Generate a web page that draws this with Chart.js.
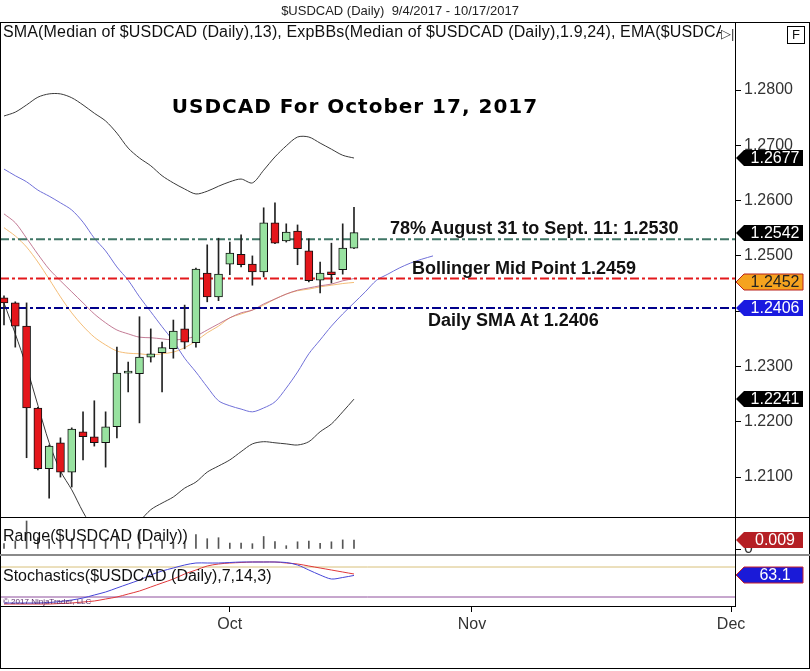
<!DOCTYPE html>
<html lang="en">
<head>
  <meta charset="UTF-8" />
  <title>USDCAD Daily</title>
  <script src="https://cdn.jsdelivr.net/npm/chart.js"></script>
  <style>
    body { margin: 0; background: #fff; font-family: "Liberation Sans", Arial, sans-serif; }
    #wrap { position: relative; width: 810px; height: 671px; overflow: hidden; }
    #wrap canvas { position: absolute; left: 0; }
    .txt { position: absolute; white-space: nowrap; color: #111; }
    .line { position: absolute; background: #000; }
    .note { font-weight: bold; font-size: 18px; line-height: 22px; }
  </style>
</head>
<body>
  <div id="wrap">
    <canvas id="mainChart" width="810" height="494" style="top:23px"></canvas>
    <canvas id="rangeChart" width="810" height="36" style="top:518px"></canvas>
    <canvas id="stochChart" width="810" height="86" style="top:556px"></canvas>

    <!-- frame and panel separators -->
    <div class="line" style="left:0;top:22px;width:808px;height:645px;background:none;border:1px solid #000;"></div>
    <div class="line" style="left:0;top:517px;width:810px;height:1px;"></div>
    <div class="line" style="left:0;top:554px;width:810px;height:2px;background:#8a8a8a;"></div>
    <div class="line" style="left:0;top:606px;width:736px;height:1px;"></div>
    <div class="line" style="left:735px;top:22px;width:1px;height:585px;"></div>

    <div class="txt" style="left:0;top:3px;width:800px;text-align:center;font-size:13px;line-height:16px;color:#222;">$USDCAD (Daily)&nbsp; 9/4/2017 - 10/17/2017</div>
    <div class="txt" style="left:3px;top:23px;width:718px;overflow:hidden;font-size:16px;line-height:18px;letter-spacing:0.15px;">SMA(Median of $USDCAD (Daily),13), ExpBBs(Median of $USDCAD (Daily),1.9,24), EMA($USDCAD (Daily),13)</div>
    <div class="txt" style="left:721px;top:26px;font-size:13px;line-height:16px;color:#333;">&#9655;|</div>
    <div class="txt" style="left:787px;top:26px;width:16px;height:16px;border:1px solid #000;text-align:center;font-size:13px;line-height:16px;">F</div>

    <div class="txt" style="left:0;top:94px;width:710px;text-align:center;font-family:'DejaVu Sans',sans-serif;font-weight:bold;font-size:20px;letter-spacing:1px;line-height:24px;color:#000;">USDCAD For October 17, 2017</div>
    <div class="txt note" style="left:390px;top:217px;">78% August 31 to Sept. 11: 1.2530</div>
    <div class="txt note" style="left:412px;top:257px;">Bollinger Mid Point 1.2459</div>
    <div class="txt note" style="left:428px;top:309px;">Daily SMA At 1.2406</div>

    <div class="txt" style="left:3px;top:527px;font-size:16px;line-height:18px;">Range($USDCAD (Daily))</div>
    <div class="txt" style="left:3px;top:567px;font-size:16px;line-height:18px;">Stochastics($USDCAD (Daily),7,14,3)</div>
    <div class="txt" style="left:3px;top:597px;font-size:8px;line-height:9px;color:#5b2d6b;">© 2017 NinjaTrader, LLC</div>
  </div>

  <script>
    // daily candles 9/4/2017 - 10/17/2017
    const opens  = [1.2424,1.2415,1.2373,1.2225,1.2115,1.2162,1.2109,1.2182,1.2173,1.2162,1.2191,1.2288,1.2287,1.2317,1.2325,1.2332,1.2368,1.2343,1.2469,1.2426,1.2485,1.2503,1.2485,1.2471,1.2560,1.2527,1.2545,1.2509,1.2456,1.2471,1.2475,1.2514];
    const highs  = [1.2428,1.2417,1.2415,1.2226,1.2158,1.2171,1.2189,1.2218,1.2238,1.2218,1.2335,1.2308,1.2390,1.2368,1.2344,1.2384,1.2411,1.2478,1.2520,1.2532,1.2525,1.2538,1.2500,1.2587,1.2596,1.2558,1.2556,1.2531,1.2489,1.2523,1.2558,1.2588];
    const lows   = [1.2375,1.2335,1.2135,1.2113,1.2062,1.2100,1.2082,1.2131,1.2156,1.2118,1.2171,1.2254,1.2198,1.2308,1.2254,1.2315,1.2332,1.2335,1.2417,1.2419,1.2466,1.2480,1.2447,1.2462,1.2522,1.2525,1.2484,1.2453,1.2433,1.2451,1.2467,1.2513];
    const closes = [1.2415,1.2373,1.2225,1.2115,1.2156,1.2109,1.2187,1.2173,1.2162,1.2191,1.2288,1.2289,1.2317,1.2323,1.2334,1.2364,1.2344,1.2476,1.2426,1.2467,1.2505,1.2484,1.2471,1.2560,1.2523,1.2543,1.2513,1.2455,1.2469,1.2466,1.2514,1.2542];

    // indicators
    const bbUpper = [1.2753,1.2760,1.2773,1.2787,1.2793,1.2793,1.2786,1.2773,1.2758,1.2744,1.2722,1.2695,1.2677,1.2663,1.2645,1.2632,1.2621,1.2612,1.2617,1.2626,1.2634,1.2639,1.2632,1.2655,1.2679,1.2699,1.2715,1.2715,1.2704,1.2693,1.2682,1.2677];
    const bbMid   = [1.2576,1.2560,1.2532,1.2503,1.2476,1.2455,1.2435,1.2415,1.2395,1.2379,1.2366,1.2359,1.2353,1.2352,1.2350,1.2348,1.2350,1.2355,1.2366,1.2377,1.2388,1.2397,1.2402,1.2413,1.2422,1.2431,1.2438,1.2442,1.2446,1.2449,1.2455,1.2459];
    const bbLower = [1.2415,1.2359,1.2299,1.2230,1.2162,1.2111,1.2077,1.2037,1.2004,1.1986,1.1980,1.1990,1.2019,1.2041,1.2053,1.2064,1.2080,1.2091,1.2109,1.2120,1.2131,1.2146,1.2160,1.2164,1.2162,1.2160,1.2158,1.2164,1.2182,1.2196,1.2218,1.2241];
    const emaLine = [1.2551,1.2536,1.2516,1.2489,1.2458,1.2426,1.2397,1.2373,1.2353,1.2339,1.2328,1.2324,1.2323,1.2321,1.2323,1.2326,1.2334,1.2346,1.2361,1.2373,1.2388,1.2395,1.2402,1.2411,1.2422,1.2431,1.2437,1.2440,1.2444,1.2447,1.2450,1.2452];
    const smaLine = [1.2657,1.2645,1.2634,1.2619,1.2608,1.2596,1.2583,1.2561,1.2532,1.2509,1.2480,1.2456,1.2426,1.2399,1.2372,1.2346,1.2315,1.2290,1.2263,1.2238,1.2229,1.2223,1.2218,1.2225,1.2236,1.2261,1.2290,1.2323,1.2348,1.2373,1.2395,1.2415,1.2435,1.2456,1.2467,1.2478,1.2487,1.2494,1.2500];

    const levels      = [1.2530, 1.2459, 1.2406];
    const levelColors = ['#3f7565', '#e3191c', '#00008b'];

    const rangeVals = [0.0053,0.0082,0.0280,0.0113,0.0096,0.0071,0.0107,0.0087,0.0082,0.0100,0.0164,0.0054,0.0192,0.0060,0.0090,0.0069,0.0079,0.0143,0.0103,0.0113,0.0059,0.0058,0.0053,0.0125,0.0074,0.0033,0.0072,0.0078,0.0056,0.0072,0.0091,0.0090];
    const stochK = [8,8,8,8,9,11,14,18,24,30,38,46,54,64,72,78,84,88,88,88,89,90,90,90,90,89,84,74,64,56,59,63.1];
    const stochD = [6,6,6,6,6,7,8,10,12,16,20,26,32,40,48,56,66,74,82,86,88,89,90,90,90,88,86,82,78,74,70,66];
    const stochLevels = [80, 20];

    const priceTicks  = [1.21, 1.22, 1.23, 1.24, 1.25, 1.26, 1.27, 1.28];
    const xTickPos    = [20, 41.45, 64.4];
    const xTickLabels = ['Oct', 'Nov', 'Dec'];

    const xMin = -0.354, xMax = 64.746;
    const green = '#98e2a0', red = '#e4161b';
    const fontAxis = { family: '"Liberation Sans", Arial, sans-serif', size: 16 };

    const pts = arr => arr.map((v, i) => ({ x: i, y: v }));
    const hline = v => [{ x: xMin, y: v }, { x: xMax, y: v }];

    function lineSet(data, color, order, extra) {
      return Object.assign({ type: 'line', data, borderColor: color, borderWidth: 1, pointRadius: 0, tension: 0.3, fill: false, order }, extra || {});
    }

    function xAxis(show) {
      return {
        type: 'linear', min: xMin, max: xMax, offset: false, display: show,
        afterBuildTicks: s => { s.ticks = xTickPos.map(v => ({ value: v })); },
        afterFit: s => {
          // hidden axes must keep zero height
          s.height = show ? 36 : 0;
          s.paddingLeft = 0; s.paddingRight = 0;
        },
        ticks: { autoSkip: false, maxRotation: 0, font: fontAxis, color: '#333', padding: 3, callback: (v, i) => xTickLabels[i] },
        grid: { drawOnChartArea: false, tickLength: 6, color: '#000' },
        border: { display: false }
      };
    }

    function yAxis(min, max, ticks, fmt) {
      return {
        type: 'linear', position: 'right', min, max,
        afterBuildTicks: s => { s.ticks = ticks.map(v => ({ value: v })); },
        afterFit: s => { s.width = 75; s.paddingTop = 0; s.paddingBottom = 0; },
        ticks: { font: fontAxis, color: '#333', padding: 3, display: ticks.length > 0, callback: fmt },
        grid: { drawOnChartArea: false, tickLength: 6, color: '#000', drawTicks: ticks.length > 0 },
        border: { display: false }
      };
    }

    const tagPlugin = {
      id: 'tags',
      afterDraw(chart, args, opts) {
        const ctx = chart.ctx, y = chart.scales.y, x0 = chart.chartArea.right + 1;
        (opts.items || []).forEach(t => {
          const py = Math.round(y.getPixelForValue(t.value));
          ctx.save();
          ctx.beginPath();
          ctx.moveTo(x0, py);
          ctx.lineTo(x0 + 8, py - 8);
          ctx.lineTo(x0 + 67, py - 8);
          ctx.lineTo(x0 + 67, py + 8);
          ctx.lineTo(x0 + 8, py + 8);
          ctx.closePath();
          ctx.fillStyle = t.fill;
          ctx.fill();
          if (t.edge) { ctx.strokeStyle = t.edge; ctx.lineWidth = 1; ctx.stroke(); }
          ctx.fillStyle = t.color;
          ctx.font = '16px "Liberation Sans", Arial, sans-serif';
          ctx.textAlign = 'center';
          ctx.textBaseline = 'middle';
          ctx.fillText(t.text, x0 + 39, py + 1);
          ctx.restore();
        });
      }
    };

    const common = { responsive: false, devicePixelRatio: 1, animation: false, layout: { padding: 0 },
      plugins: { legend: { display: false }, tooltip: { enabled: false } } };

    const last = a => a[a.length - 1];

    // main price panel
    new Chart(document.getElementById('mainChart'), {
      type: 'line',
      data: {
        datasets: [
          { type: 'bar', data: closes.map((c, i) => ({ x: i, y: [opens[i], c] })),
            backgroundColor: closes.map((c, i) => c >= opens[i] ? green : red),
            borderColor: '#111', borderWidth: 1, borderSkipped: false, barThickness: 8, minBarLength: 2, grouped: false, order: 0 },
          { type: 'bar', data: closes.map((c, i) => ({ x: i, y: [lows[i], highs[i]] })),
            backgroundColor: '#222', barThickness: 1, grouped: false, order: 1 },
          ...levels.map((v, k) => lineSet(hline(v), levelColors[k], 2, { borderWidth: 2, tension: 0, borderDash: [9, 3, 3, 3] })),
          lineSet(pts(bbUpper), '#3a3a3a', 3),
          lineSet(pts(bbLower), '#3a3a3a', 3),
          lineSet(pts(smaLine), '#7070d8', 3),
          lineSet(pts(bbMid), 'rgba(185,100,130,0.85)', 3),
          lineSet(pts(emaLine), 'rgba(242,178,95,0.85)', 3)
        ]
      },
      options: Object.assign({}, common, {
        scales: {
          x: xAxis(false),
          y: yAxis(1.20278, 1.29212, priceTicks, v => v.toFixed(4))
        },
        plugins: Object.assign({}, common.plugins, {
          tags: { items: [
            { value: last(bbUpper), text: last(bbUpper).toFixed(4), fill: '#000', color: '#fff' },
            { value: last(closes), text: last(closes).toFixed(4), fill: '#000', color: '#fff' },
            { value: last(emaLine), text: last(emaLine).toFixed(4), fill: '#f5a31f', edge: '#b8201c', color: '#222' },
            { value: levels[2], text: levels[2].toFixed(4), fill: '#1a1ae0', color: '#fff' },
            { value: last(bbLower), text: last(bbLower).toFixed(4), fill: '#000', color: '#fff' }
          ] }
        })
      }),
      plugins: [tagPlugin]
    });

    // range panel
    new Chart(document.getElementById('rangeChart'), {
      type: 'bar',
      data: {
        datasets: [
          { data: pts(rangeVals), backgroundColor: '#555', barThickness: 1, grouped: false }
        ]
      },
      options: Object.assign({}, common, {
        scales: {
          x: xAxis(false),
          y: yAxis(-0.005, 0.031, [0], v => String(v))
        },
        plugins: Object.assign({}, common.plugins, {
          tags: { items: [
            { value: last(rangeVals), text: last(rangeVals).toFixed(3), fill: '#b51f24', color: '#fff' }
          ] }
        })
      }),
      plugins: [tagPlugin]
    });

    // stochastics panel
    new Chart(document.getElementById('stochChart'), {
      type: 'line',
      data: {
        datasets: [
          lineSet(hline(stochLevels[0]), '#d8c07a', 2, { tension: 0 }),
          lineSet(hline(stochLevels[1]), '#8e4f9c', 2, { tension: 0 }),
          lineSet(pts(stochD), '#e0383a', 1),
          lineSet(pts(stochK), '#4545d8', 0)
        ]
      },
      options: Object.assign({}, common, {
        scales: {
          x: xAxis(true),
          y: yAxis(2, 102, [], v => '')
        },
        plugins: Object.assign({}, common.plugins, {
          tags: { items: [
            { value: last(stochK), text: last(stochK).toFixed(1), fill: '#1a1ad8', edge: '#c8202a', color: '#fff' }
          ] }
        })
      }),
      plugins: [tagPlugin]
    });
  </script>
</body>
</html>
